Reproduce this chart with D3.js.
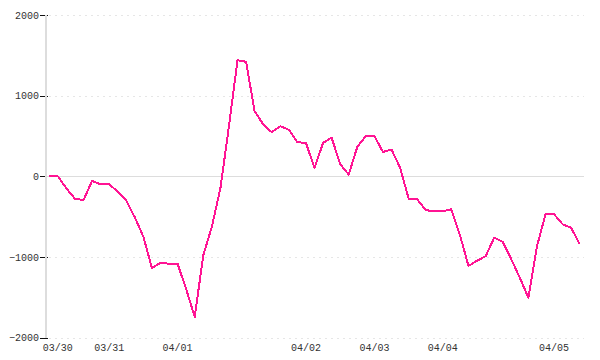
<!DOCTYPE html>
<html>
<head>
<meta charset="utf-8">
<script src="https://cdn.jsdelivr.net/npm/d3@7"></script>
<style>
  html, body { margin: 0; padding: 0; background: #fff; }
  svg { display: block; }
  text { font-family: "Liberation Mono", monospace; font-size: 10px; fill: #333; }
</style>
</head>
<body>
<svg id="chart" width="600" height="360"></svg>
<script>
// ---- data ----
const values = [
  0, 0, -150, -280, -295, -58, -100, -100, -190, -300,
  -510, -750, -1137, -1073, -1085, -1087, -1400, -1745, -980, -628,
  -150, 620, 1438, 1420, 806, 645, 546, 620, 577, 422,
  413, 103, 413, 480, 149, 21, 363, 500, 500, 301,
  331, 108, -277, -285, -420, -435, -435, -410, -730, -1112,
  -1048, -992, -763, -812, -1030, -1259, -1507, -870, -471, -471,
  -595, -639, -843
];
const categories = values.map((d, i) => i);
const xTickIndex = [1, 7, 15, 30, 38, 46, 59];
const xTickLabels = ["03/30", "03/31", "04/01", "04/02", "04/03", "04/04", "04/05"];
const yTicks = [-2000, -1000, 0, 1000, 2000];

// ---- layout ----
const svg = d3.select("#chart");
const mLeft = 45, mRight = 584, mTop = 15, mBottom = 337.5;
const FONT = "'Liberation Mono', monospace";

const x = d3.scaleBand().domain(categories).range([mLeft, mRight]).paddingInner(0).paddingOuter(0);
const cx = i => x(i) + x.bandwidth() / 2;
const y = d3.scaleLinear().domain([-2000, 2000]).range([mBottom, mTop]);

// grid lines (dashed)
svg.append("g").selectAll("line")
  .data(yTicks.filter(d => d !== 0))
  .join("line")
  .attr("x1", mLeft + 4).attr("x2", mRight)
  .attr("y1", d => Math.round(y(d)) + 0.5).attr("y2", d => Math.round(y(d)) + 0.5)
  .attr("stroke", "#e6e6e6").attr("stroke-width", 1)
  .attr("stroke-dasharray", "2,4")
  .attr("shape-rendering", "crispEdges");

// y axis ticks + labels
const yAxis = d3.axisLeft(y).tickValues(yTicks).tickSize(8).tickPadding(1).tickFormat(d3.format("d"));
const gy = svg.append("g").attr("transform", "translate(48,0)").call(yAxis);
gy.select(".domain").remove();
gy.selectAll(".tick line").attr("stroke", "#111").attr("shape-rendering", "crispEdges");
gy.selectAll(".tick text").attr("fill", "#333").style("font-size", "10px").style("font-family", FONT);

// zero line
svg.append("line")
  .attr("x1", mLeft).attr("x2", mRight)
  .attr("y1", Math.round(y(0)) + 0.5).attr("y2", Math.round(y(0)) + 0.5)
  .attr("stroke", "#dddddd").attr("stroke-width", 1.5)
  .attr("shape-rendering", "crispEdges");

// y axis line
svg.append("line")
  .attr("x1", mLeft + 0.5).attr("x2", mLeft + 0.5)
  .attr("y1", mTop).attr("y2", mBottom)
  .attr("stroke", "#dddddd").attr("stroke-width", 2)
  .attr("shape-rendering", "crispEdges");

// x axis labels
const xAxis = d3.axisBottom(x).tickValues(xTickIndex).tickSize(0).tickPadding(0)
  .tickFormat(d => xTickLabels[xTickIndex.indexOf(d)]);
const gx = svg.append("g").attr("transform", "translate(0,344)").call(xAxis);
gx.select(".domain").remove();
gx.selectAll(".tick text").attr("fill", "#333").attr("dy", "0.71em")
  .style("font-size", "10px").style("font-family", FONT);

// line
const line = d3.line().x((d, i) => cx(i)).y(d => y(d));
svg.append("path")
  .datum(values)
  .attr("d", line)
  .attr("fill", "none")
  .attr("stroke", "#ff1493")
  .attr("stroke-width", 2)
  .attr("stroke-linejoin", "round")
  .attr("shape-rendering", "crispEdges");
</script>
</body>
</html>
